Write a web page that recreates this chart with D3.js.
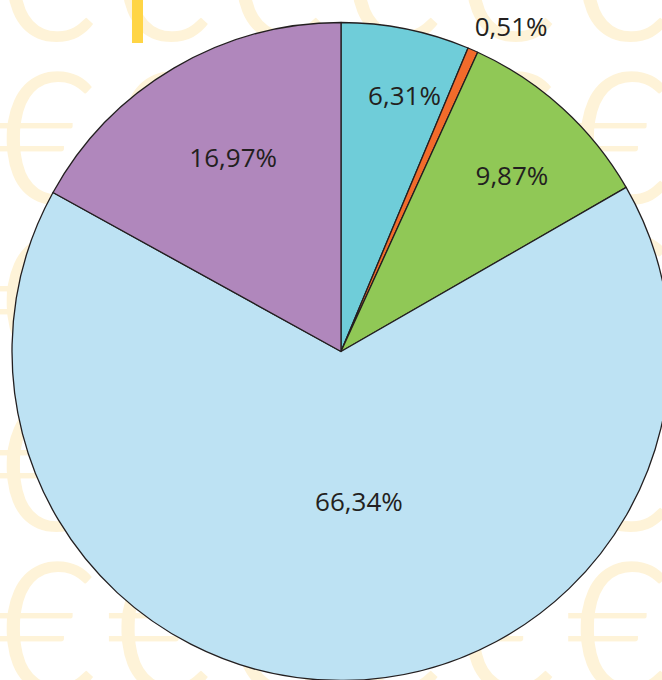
<!DOCTYPE html>
<html>
<head>
<meta charset="utf-8">
<script src="https://cdn.jsdelivr.net/npm/d3@7/dist/d3.min.js"></script>
<style>
  html, body { margin: 0; padding: 0; background: #ffffff; }
  svg { display: block; }
</style>
</head>
<body>
<svg id="chart" width="662" height="680"></svg>
<script>
// ---- data ----
const categories = ["A", "B", "C", "D", "E"];
const values = [6.31, 0.51, 9.87, 66.34, 16.97];
const labels = ["6,31%", "0,51%", "9,87%", "66,34%", "16,97%"];
const colors = ["#6fcdd9", "#f26b2b", "#90c856", "#bde2f3", "#b087bc"];

// ---- layout ----
const W = 662, H = 680;
const cx = 341, cy = 351.5, R = 329;
// label placement relative to slice: radius fraction, angle offset (deg)
const labelPlace = [
  { r: 0.80, da: 2.6 },
  { r: 1.115, da: 4.0 },
  { r: 0.745, da: 1.9 },
  { r: 0.46, da: -6.3 },
  { r: 0.675, da: 1.5 }
];

const svg = d3.select("#chart");

// ---- background euro pattern (decorative) ----
const bg = svg.append("g");
const euroFill = "#fef3d8";
const colL = d3.range(6).map(i => 12 + i * 114.8);
const rowT = d3.range(-1, 4).map(j => 72 + j * 163.3);
rowT.forEach(T => {
  colL.forEach(L => {
    bg.append("text")
      .attr("x", L - 22).attr("y", T + 134)
      .attr("font-family", "Lato")
      .attr("font-size", 188)
      .attr("fill", euroFill)
      .attr("stroke", "#ffffff")
      .attr("stroke-width", 4)
      .attr("paint-order", "fill")
      .text("\u20AC");
  });
});
bg.append("rect").attr("x", 132).attr("y", 0).attr("width", 11).attr("height", 43).attr("fill", "#ffd545");

// ---- pie ----
const pie = d3.pie().sort(null).value(d => d)(values);
const arc = d3.arc().innerRadius(0).outerRadius(R);
const g = svg.append("g").attr("transform", `translate(${cx},${cy})`);

g.selectAll("path.slice")
  .data(pie)
  .join("path")
  .attr("class", "slice")
  .attr("d", arc)
  .attr("fill", (d, i) => colors[i])
  .attr("stroke", "#231f20")
  .attr("stroke-width", 1.3)
  .attr("stroke-linejoin", "round");

g.selectAll("text.lbl")
  .data(pie)
  .join("text")
  .attr("class", "lbl")
  .attr("transform", (d, i) => {
    const a = (d.startAngle + d.endAngle) / 2 + labelPlace[i].da * Math.PI / 180;
    const r = labelPlace[i].r * R;
    return `translate(${r * Math.sin(a)},${-r * Math.cos(a)})`;
  })
  .attr("text-anchor", "middle")
  .attr("dy", "0.36em")
  .attr("font-family", "Open Sans")
  .attr("font-size", 26)
  .attr("fill", "#231f20")
  .text((d, i) => labels[i]);
</script>
</body>
</html>
